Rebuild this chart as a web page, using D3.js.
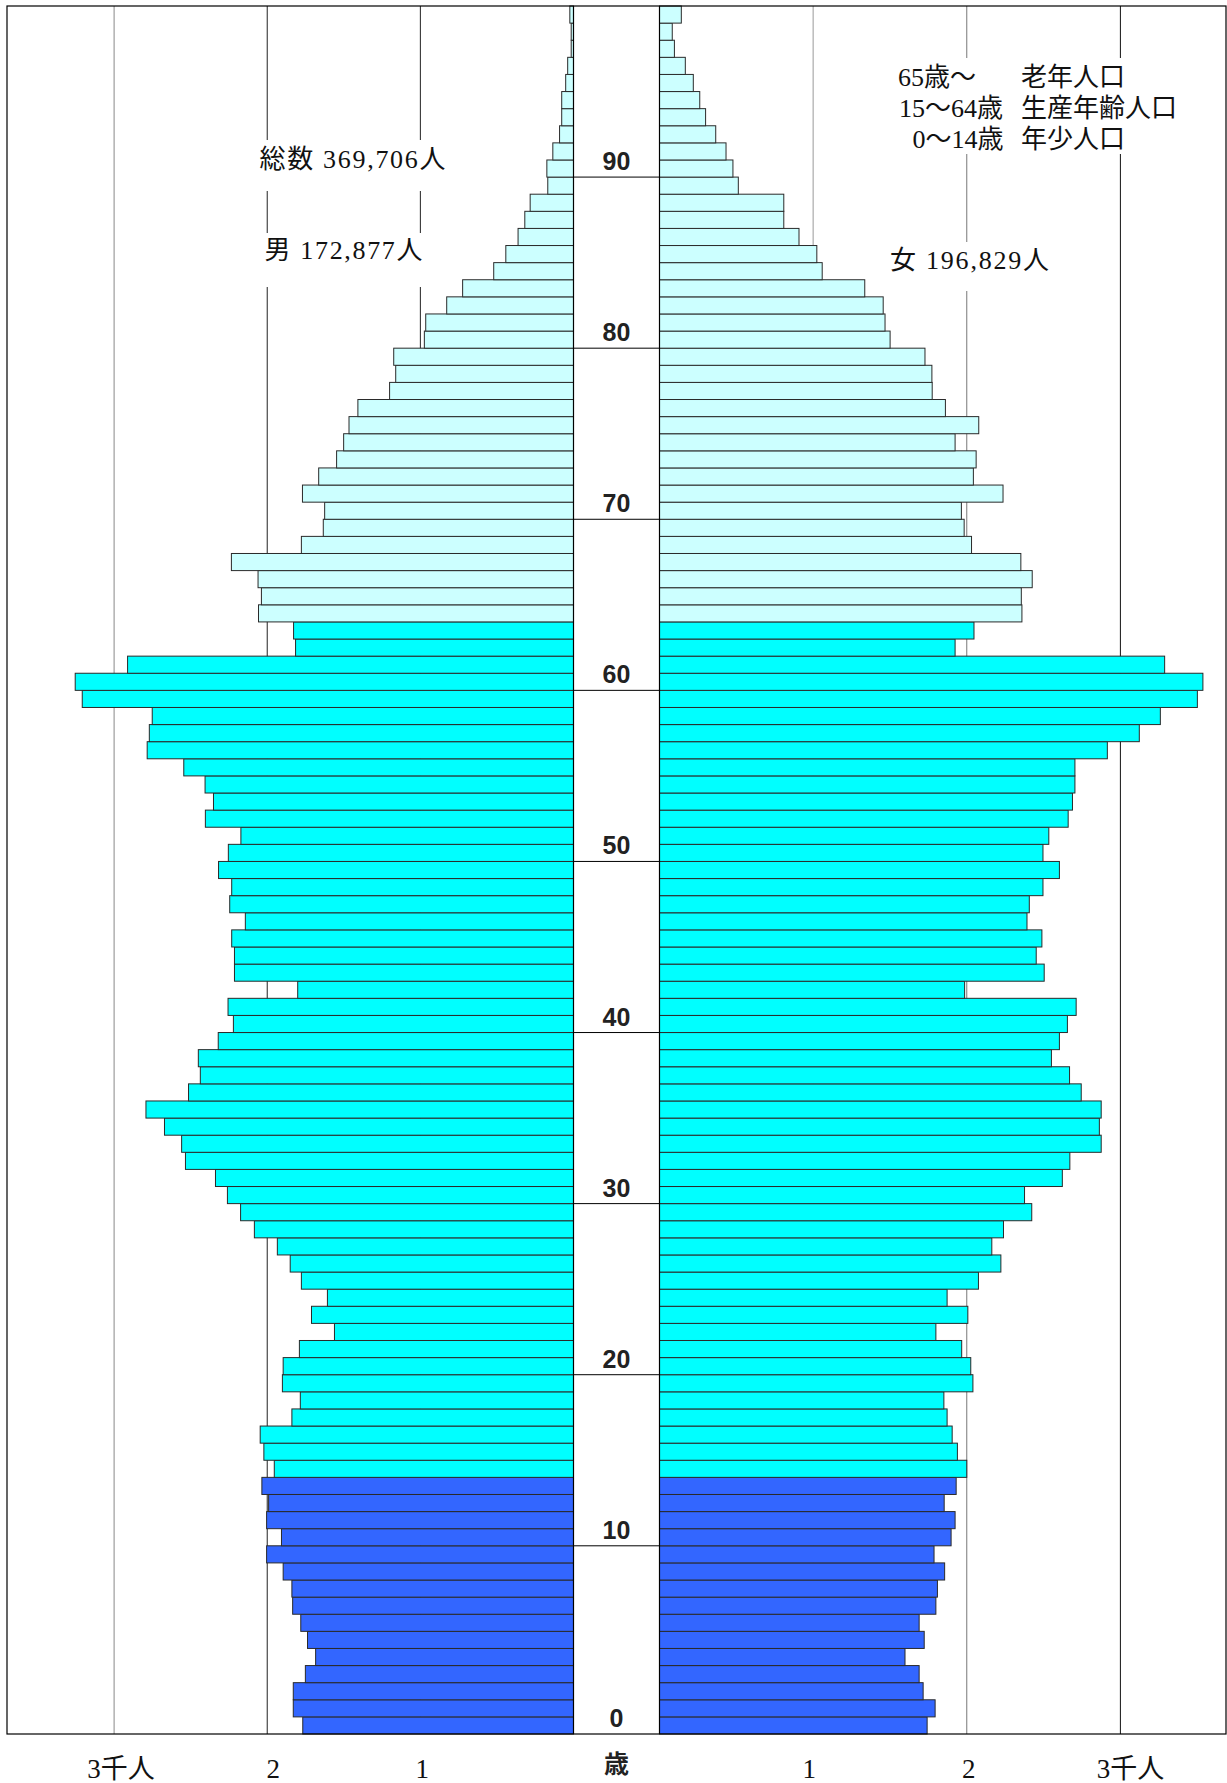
<!DOCTYPE html>
<html><head><meta charset="utf-8">
<script src="https://cdn.jsdelivr.net/npm/d3@7/dist/d3.min.js"></script>
<style>html,body{margin:0;padding:0;background:#fff}</style>
</head><body>
<svg id="chart" width="1227" height="1783"></svg>
<script>
// ---------- data ----------
const ages = d3.range(0, 101); // 0 .. 100
const male = [1768,1830,1830,1751,1684,1737,1781,1834,1839,1896,
  2004,1907,2004,1991,2035,1954,2022,2046,1839,1784,
  1901,1896,1790,1561,1711,1607,1777,1850,1934,2084,
  2174,2260,2338,2534,2559,2671,2792,2514,2437,2450,
  2320,2221,2256,1801,2214,2214,2232,2143,2245,2232,
  2318,2254,2172,2404,2351,2406,2545,2784,2770,2751,
  3208,3254,2912,1815,1828,2057,2038,2060,2234,1777,
  1634,1625,1770,1664,1547,1501,1466,1408,1201,1161,
  1174,974,965,828,724,521,442,362,318,283,
  168,174,135,91,77,77,51,38,15,15,24];
const female = [1742,1794,1716,1690,1598,1723,1690,1799,1809,1856,
  1787,1898,1924,1853,1931,2000,1939,1905,1872,1851,
  2040,2026,1967,1799,2007,1872,2076,2222,2163,2239,
  2423,2376,2622,2671,2875,2863,2875,2745,2669,2551,
  2603,2655,2712,1986,2504,2452,2489,2392,2407,2496,
  2603,2496,2534,2660,2688,2704,2704,2915,3123,3260,
  3501,3537,3288,1924,2047,2359,2355,2426,2352,2031,
  1983,1965,2236,2043,2061,1924,2078,1861,1775,1773,
  1728,1501,1468,1456,1336,1059,1024,908,809,809,
  513,478,433,366,300,262,220,168,97,83,142];
const ageTickValues = [0,10,20,30,40,50,60,70,80,90];
const ageTickLabels = ["0","10","20","30","40","50","60","70","80","90"];
const gridValues = [1000,2000,3000];
const gridLabels = ["1","2","3千人"];
const groupStart = [0, 15, 65];          // 年少 / 生産年齢 / 老年
const legendAges = ["65歳～", "15～64歳", "0～14歳"];
const legendNames = ["老年人口", "生産年齢人口", "年少人口"];
const totalLabel = "総数 369,706人";
const maleLabel = "男 172,877人";
const femaleLabel = "女 196,829人";
const axisUnit = "歳";

// ---------- styles / layout ----------
const groupColors = ["#3366ff", "#00ffff", "#ccffff"];
const mincho = "'Liberation Serif','Noto Sans CJK JP',serif";
const gothic = "'Liberation Sans','Noto Sans CJK JP',sans-serif";
const plotTop = 6, plotBottom = 1734, frameL = 7, frameR = 1226;

const svg = d3.select("#chart");
const xL = d3.scaleLinear().domain([0, 3000]).range([573.5, 114.1]);
const xR = d3.scaleLinear().domain([0, 3000]).range([659.5, 1120.4]);
const y = d3.scaleBand().domain(ages.slice().reverse()).range([plotTop, plotBottom]).padding(0);
const color = a => groupColors[d3.bisectRight(groupStart, a) - 1];

// gridlines
const gridColL = ["#222", "#222", "#888"];
const gridColR = ["#999", "#777", "#111"];
svg.append("g").selectAll("line").data(gridValues).join("line")
  .attr("x1", d => xL(d)).attr("x2", d => xL(d))
  .attr("y1", plotTop).attr("y2", plotBottom)
  .attr("stroke", (d, i) => gridColL[i]).attr("stroke-width", 1);
svg.append("g").selectAll("line").data(gridValues).join("line")
  .attr("x1", d => xR(d)).attr("x2", d => xR(d))
  .attr("y1", plotTop).attr("y2", plotBottom)
  .attr("stroke", (d, i) => gridColR[i]).attr("stroke-width", 1);

// bars
svg.append("g").selectAll("rect").data(ages).join("rect")
  .attr("x", a => xL(male[a])).attr("y", a => y(a))
  .attr("width", a => xL(0) - xL(male[a])).attr("height", y.bandwidth())
  .attr("fill", a => color(a)).attr("stroke", "#2a2a2a").attr("stroke-width", 1);
svg.append("g").selectAll("rect").data(ages).join("rect")
  .attr("x", xR(0)).attr("y", a => y(a))
  .attr("width", a => xR(female[a]) - xR(0)).attr("height", y.bandwidth())
  .attr("fill", a => color(a)).attr("stroke", "#2a2a2a").attr("stroke-width", 1);

// center baselines
[xL(0), xR(0)].forEach(x => svg.append("line")
  .attr("x1", x).attr("x2", x).attr("y1", plotTop).attr("y2", plotBottom)
  .attr("stroke", "#000").attr("stroke-width", 1.2));

// age ticks and labels
const cx = (xL(0) + xR(0)) / 2;
const tickY = a => a === 0 ? plotBottom : y(a);
svg.append("g").selectAll("line").data(ageTickValues.filter(a => a > 0)).join("line")
  .attr("x1", xL(0)).attr("x2", xR(0))
  .attr("y1", a => tickY(a)).attr("y2", a => tickY(a))
  .attr("stroke", "#000").attr("stroke-width", 1);
svg.append("g").selectAll("text").data(ageTickValues).join("text")
  .attr("x", cx).attr("y", a => tickY(a) - 7)
  .attr("text-anchor", "middle").attr("font-family", gothic)
  .attr("font-size", 25).attr("font-weight", "bold").attr("fill", "#222")
  .text((a, i) => ageTickLabels[i]);

// frame
svg.append("rect").attr("x", frameL).attr("y", plotTop)
  .attr("width", frameR - frameL).attr("height", plotBottom - plotTop)
  .attr("fill", "none").attr("stroke", "#000").attr("stroke-width", 1.2);

// bottom axis labels
const dxL = [2, 6, 7], dxR = [-4, 2, 10];
svg.append("g").selectAll("text").data(gridValues).join("text")
  .attr("x", (d, i) => xL(d) + dxL[i]).attr("y", 1778)
  .attr("text-anchor", "middle").attr("font-family", mincho)
  .attr("font-size", 27).attr("fill", "#111").text((d, i) => gridLabels[i]);
svg.append("g").selectAll("text").data(gridValues).join("text")
  .attr("x", (d, i) => xR(d) + dxR[i]).attr("y", 1778)
  .attr("text-anchor", "middle").attr("font-family", mincho)
  .attr("font-size", 27).attr("fill", "#111").text((d, i) => gridLabels[i]);
svg.append("text").attr("x", cx).attr("y", 1773).attr("text-anchor", "middle")
  .attr("font-family", gothic).attr("font-size", 25).attr("font-weight", "bold")
  .attr("fill", "#222").text(axisUnit);

// annotation boxes and texts
function box(x, yy, w, h) {
  svg.append("rect").attr("x", x).attr("y", yy).attr("width", w).attr("height", h).attr("fill", "#fff");
}
function label(txt, x, yy, len) {
  const t = svg.append("text").attr("x", x).attr("y", yy)
    .attr("font-family", mincho).attr("font-size", 26).attr("fill", "#111").text(txt);
  if (len) t.attr("textLength", len).attr("lengthAdjust", "spacing");
}
box(255, 140, 196, 51); label(totalLabel, 259.5, 168, 186);
box(255, 233, 196, 54); label(maleLabel, 264.5, 259, 158);
box(884, 242, 176, 49); label(femaleLabel, 890, 269, 159);
box(890, 58, 300, 96);
const legX1 = [898, 899, 912.5], legY = [86, 117, 148];
legendAges.forEach((t, i) => label(t, legX1[i], legY[i]));
legendNames.forEach((t, i) => label(t, 1021, legY[i]));
</script>
</body></html>
